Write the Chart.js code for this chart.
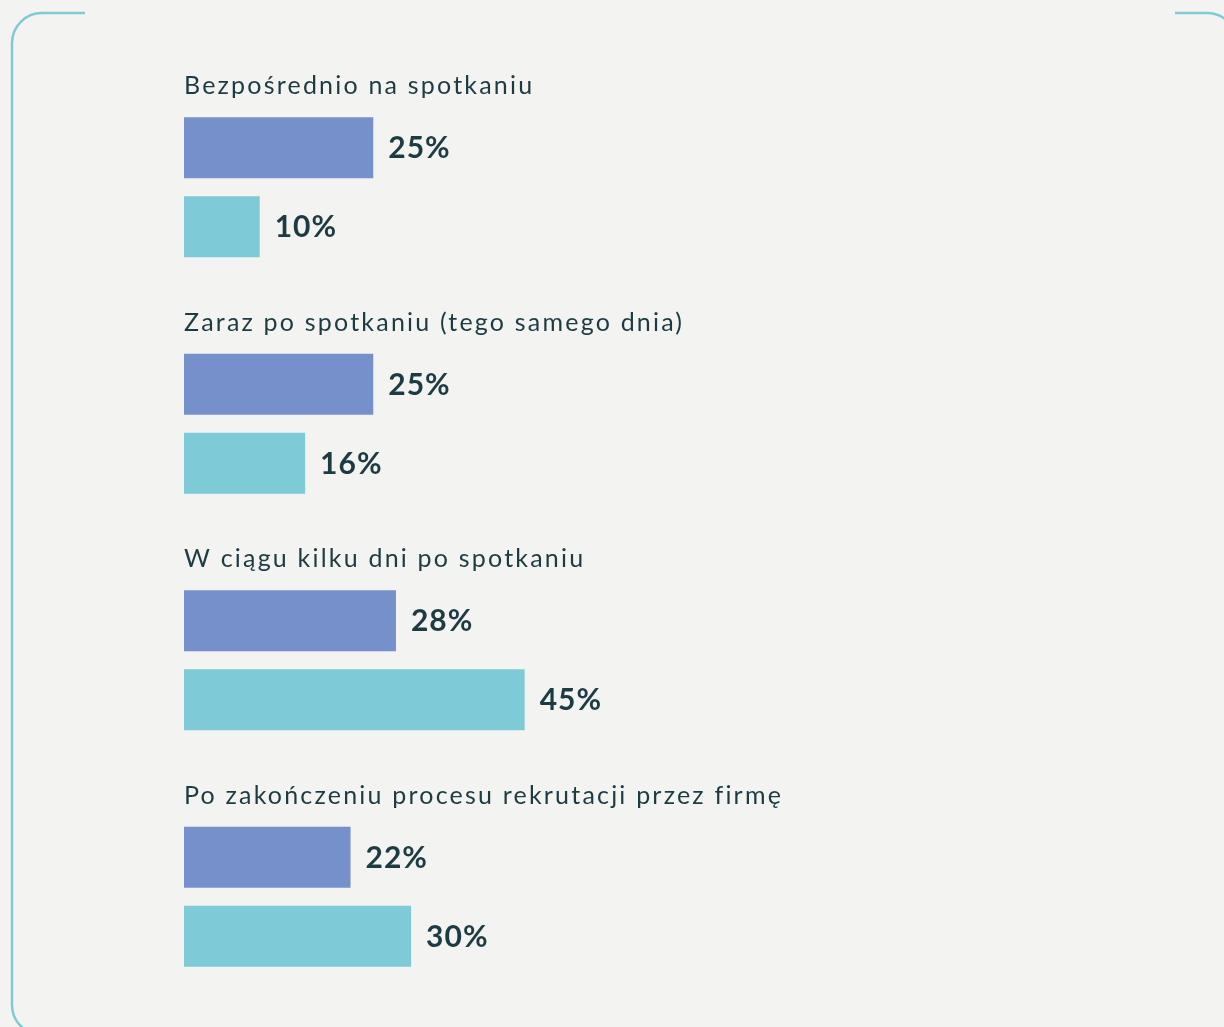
<!DOCTYPE html>
<html lang="pl">
<head>
<meta charset="utf-8">
<title>Kiedy</title>
<script src="https://cdn.jsdelivr.net/npm/chart.js@4.4.1/dist/chart.umd.min.js"></script>
<style>
  html, body { margin: 0; padding: 0; background: #f3f3f1; }
  #wrap { width: 1224px; height: 1027px; position: relative; }
</style>
</head>
<body>
<div id="wrap"><canvas id="chart" width="1224" height="1027"></canvas></div>
<script>
const categories = [
  "Bezpośrednio na spotkaniu",
  "Zaraz po spotkaniu (tego samego dnia)",
  "W ciągu kilku dni po spotkaniu",
  "Po zakończeniu procesu rekrutacji przez firmę"
];
const seriesA = [25, 25, 28, 22];
const seriesB = [10, 16, 45, 30];

const TEXT_DARK = "#1d3b43";

// rounded frame, open at the top middle
const framePlugin = {
  id: "frame",
  beforeDraw(chart) {
    const ctx = chart.ctx;
    ctx.save();
    ctx.fillStyle = "#f3f3f1";
    ctx.fillRect(0, 0, chart.width, chart.height);
    ctx.strokeStyle = "#7ecbd7";
    ctx.lineWidth = 2.5;
    ctx.beginPath();
    ctx.moveTo(85, 13);
    ctx.lineTo(42, 13);
    ctx.arc(42, 43, 30, -Math.PI / 2, Math.PI, true);
    ctx.lineTo(12, 1005);
    ctx.arc(42, 1005, 30, Math.PI, Math.PI / 2, true);
    ctx.lineTo(1207, 1035);
    ctx.stroke();
    ctx.beginPath();
    ctx.moveTo(1175, 13);
    ctx.lineTo(1207, 13);
    ctx.arc(1207, 43, 30, -Math.PI / 2, 0, false);
    ctx.stroke();
    ctx.restore();
  }
};

const labelsPlugin = {
  id: "labels",
  afterDatasetsDraw(chart) {
    const ctx = chart.ctx;
    const yScale = chart.scales.y;
    ctx.save();
    ctx.fillStyle = TEXT_DARK;
    ctx.textAlign = "left";
    ctx.textBaseline = "alphabetic";
    ctx.font = "25px Lato, sans-serif";
    ctx.letterSpacing = "2.2px";
    categories.forEach(function (cat, i) {
      ctx.fillText(cat, chart.chartArea.left, yScale.getPixelForValue(i) - 93);
    });
    ctx.font = "bold 30px Lato, sans-serif";
    ctx.letterSpacing = "1px";
    ctx.textBaseline = "middle";
    chart.data.datasets.forEach(function (ds, di) {
      const meta = chart.getDatasetMeta(di);
      meta.data.forEach(function (bar, i) {
        ctx.fillText(ds.data[i] + "%", bar.x + 15, bar.y + 1);
      });
    });
    ctx.restore();
  }
};

new Chart(document.getElementById("chart").getContext("2d"), {
  type: "bar",
  data: {
    labels: categories,
    datasets: [
      {
        label: "A",
        data: seriesA,
        backgroundColor: "#7590ca",
        barPercentage: 0.772,
        categoryPercentage: 0.668,
      },
      {
        label: "B",
        data: seriesB,
        backgroundColor: "#7ecad6",
        barPercentage: 0.772,
        categoryPercentage: 0.668,
      },
    ],
  },
  options: {
    indexAxis: "y",
    responsive: false,
    animation: false,
    layout: {
      padding: { left: 184, right: 283, top: 69, bottom: 12 },
    },
    plugins: {
      legend: { display: false },
      tooltip: { enabled: false },
    },
    scales: {
      x: { display: false, min: 0, max: 100 },
      y: { display: false },
    },
  },
  plugins: [framePlugin, labelsPlugin],
});
</script>
</body>
</html>
